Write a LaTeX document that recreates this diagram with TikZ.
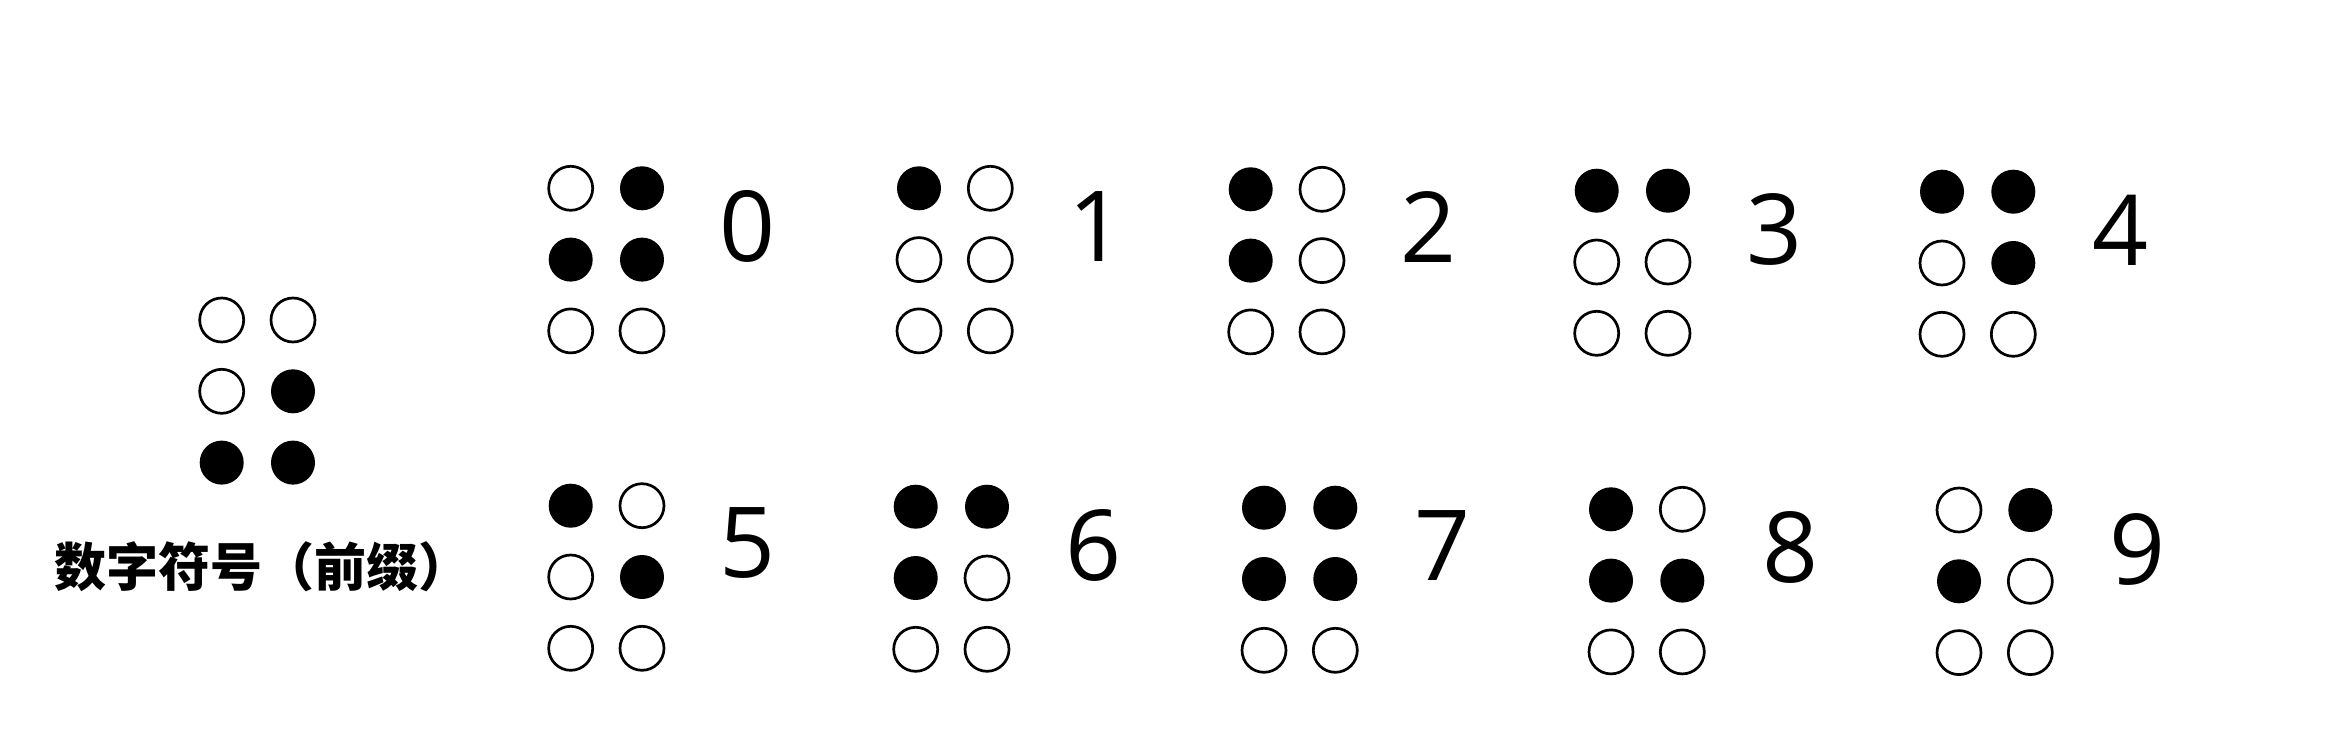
\documentclass[tikz,border=0pt]{standalone}
\usepackage{fontspec}
\setmainfont{Open Sans}
\newfontfamily\cjk{Noto Sans CJK SC}
\tikzset{
  dotbase/.style={circle, inner sep=0pt, minimum size=44pt},
  dot0/.style={dotbase, draw=black, line width=2.7pt, fill=white},
  dot1/.style={dotbase, fill=black, draw=none},
  digit/.style={inner sep=0pt, font=\fontsize{98}{98}\selectfont},
  caption/.style={inner sep=0pt, font=\cjk\bfseries\fontsize{52}{52}\selectfont}
}
\newcommand\brcell[4]{%
  \foreach \v [count=\i from 0] in {#4} {%
    \pgfmathtruncatemacro\rr{int(\i/2)}%
    \pgfmathtruncatemacro\cc{mod(\i,2)}%
    \node[dot\v] (#1-\i) at ({#2+71.3*\cc},{#3+71.3*\rr}) {};
  }%
}
\begin{document}
\begin{tikzpicture}[x=1pt,y=-1pt]
\useasboundingbox (0,0) rectangle (2334,730);
% prefix
\brcell{pre}{221.7}{320}{0,0,0,1,1,1}
\node[caption] (precap) at (262,567) {数字符号（前缀）};
% top row
\brcell{c0}{570.7}{188.3}{0,1,1,1,0,0}
\brcell{c1}{919}{188.3}{1,0,0,0,0,0}
\brcell{c2}{1250.7}{189.3}{1,0,1,0,0,0}
\brcell{c3}{1596.7}{190.7}{1,1,0,0,0,0}
\brcell{c4}{1942}{191.7}{1,1,0,1,0,0}
% bottom row
\brcell{c5}{570.7}{505.7}{1,0,0,1,0,0}
\brcell{c6}{915.7}{506.7}{1,1,1,0,0,0}
\brcell{c7}{1264}{507.7}{1,1,1,1,0,0}
\brcell{c8}{1611}{509.3}{1,0,1,1,0,0}
\brcell{c9}{1959}{510}{0,1,1,0,0,0}
% digits
\node[digit] (d0) at (748,226) {0};
\node[digit] (d1) at (1097,227) {1};
\node[digit] (d2) at (1428,227) {2};
\node[digit] (d3) at (1774,229) {3};
\node[digit] (d4) at (2120,230) {4};
\node[digit] (d5) at (748,543) {5};
\node[digit] (d6) at (1094,545) {6};
\node[digit] (d7) at (1442,546) {7};
\node[digit] (d8) at (1790,547) {8};
\node[digit] (d9) at (2137,549) {9};
\end{tikzpicture}
\end{document}
